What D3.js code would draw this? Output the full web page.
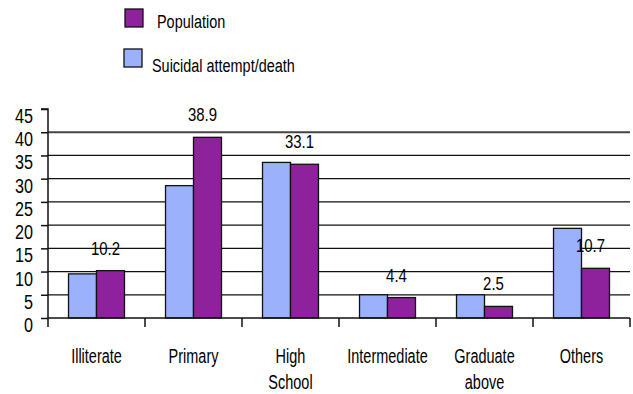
<!DOCTYPE html>
<html>
<head>
<meta charset="utf-8">
<script src="https://cdn.jsdelivr.net/npm/d3@7"></script>
<style>
  html, body { margin: 0; padding: 0; background: #fff; }
  svg { display: block; font-family: "Liberation Sans", Arial, sans-serif; }
</style>
</head>
<body>
<svg id="chart" width="633" height="394"></svg>
<script>
// Education level categories (multi-line labels split on "\n")
const categories = ["Illiterate", "Primary", "High\nSchool", "Intermediate", "Graduate\nabove", "Others"];
// Percentage of suicidal attempt/death cases per category
const attemptValues = [9.5, 28.5, 33.5, 5.0, 5.0, 19.3];
// Percentage of population per category (labelled values)
const populationValues = [10.2, 38.9, 33.1, 4.4, 2.5, 10.7];
const yTicks = [0, 5, 10, 15, 20, 25, 30, 35, 40, 45];
const seriesNames = ["Population", "Suicidal attempt/death"];

const colors = { attempt: "#9bb1fc", population: "#8e229c" };

const svg = d3.select("#chart");
const plot = { left: 48, right: 630, top: 109, bottom: 318 };

const x0 = d3.scaleBand()
  .domain(categories)
  .range([plot.left, plot.right])
  .paddingInner(0.423)
  .paddingOuter(0.2115);

const x1 = d3.scaleBand()
  .domain(["attempt", "population"])
  .range([0, x0.bandwidth()])
  .padding(0);

const y = d3.scaleLinear().domain([0, 45]).range([plot.bottom, plot.top]);

// Horizontal gridlines
svg.append("g")
  .selectAll("line")
  .data(yTicks.filter(t => t > 0 && t < 45))
  .join("line")
  .attr("x1", plot.left).attr("x2", plot.right)
  .attr("y1", d => y(d)).attr("y2", d => y(d))
  .attr("stroke", d => d === 40 ? "#444" : "#111")
  .attr("stroke-width", d => d === 40 ? 2 : 1.3);

// Condensed text helper
function label(parent, xPos, yPos, text, size, sx, anchor) {
  const g = parent.append("g").attr("transform", `translate(${xPos},${yPos}) scale(${sx},1)`);
  g.append("text")
    .attr("text-anchor", anchor)
    .attr("font-size", size)
    .attr("fill", "#000")
    .text(text);
  return g;
}

// Y axis
const yAxis = d3.axisLeft(y).tickValues(yTicks).tickSize(7).tickFormat("");
const yg = svg.append("g").attr("transform", `translate(${plot.left},0)`).call(yAxis);
yg.select(".domain").attr("stroke", "#111").attr("stroke-width", 1.5).attr("d", `M-7,${plot.top}H0V${plot.bottom}`);
yg.selectAll(".tick line").attr("stroke", "#111").attr("stroke-width", 1.5);
yTicks.forEach(t => label(svg, 33, y(t) + 14, String(t), 19.5, 0.83, "end"));

// Bars
const groups = svg.append("g")
  .selectAll("g")
  .data(categories.map((c, i) => ({ c, attempt: attemptValues[i], population: populationValues[i] })))
  .join("g")
  .attr("transform", d => `translate(${x0(d.c)},0)`);

groups.selectAll("rect")
  .data(d => ["attempt", "population"].map(k => ({ k, v: d[k] })))
  .join("rect")
  .attr("x", d => x1(d.k))
  .attr("y", d => y(d.v))
  .attr("width", x1.bandwidth())
  .attr("height", d => y(0) - y(d.v))
  .attr("fill", d => colors[d.k])
  .attr("stroke", "#111")
  .attr("stroke-width", 1.3);

// Value labels over the population bars
categories.forEach((c, i) => {
  const cx = x0(c) + x1("population") + x1.bandwidth() / 2 - 5;
  label(svg, cx, y(populationValues[i]) - 16, String(populationValues[i]), 18, 0.83, "middle");
});

// X axis with category boundary ticks
const xg = svg.append("g").attr("transform", `translate(0,${plot.bottom})`);
xg.append("line").attr("x1", plot.left).attr("x2", plot.right).attr("stroke", "#111").attr("stroke-width", 1.5);
const boundaries = categories.map((_, i) => plot.left + i * x0.step());
boundaries.push(plot.right);
xg.selectAll("line.tick")
  .data(boundaries)
  .join("line")
  .attr("class", "tick")
  .attr("x1", d => d).attr("x2", d => d)
  .attr("y1", 0).attr("y2", 9)
  .attr("stroke", "#111").attr("stroke-width", 1.5);

categories.forEach(c => {
  const cx = x0(c) + x0.bandwidth() / 2;
  c.split("\n").forEach((line, j) => {
    label(svg, cx, 363 + j * 26, line, 21, 0.69, "middle");
  });
});

// Legend
const legend = [
  { name: seriesNames[0], color: colors.population, x: 125, y: 9, tx: 157, ty: 28 },
  { name: seriesNames[1], color: colors.attempt, x: 124, y: 49, tx: 152, ty: 72 }
];
legend.forEach(d => {
  svg.append("rect")
    .attr("x", d.x).attr("y", d.y)
    .attr("width", 18).attr("height", 18)
    .attr("fill", d.color).attr("stroke", "#111").attr("stroke-width", 1.3);
  label(svg, d.tx, d.ty, d.name, 19, 0.76, "start");
});
</script>
</body>
</html>
